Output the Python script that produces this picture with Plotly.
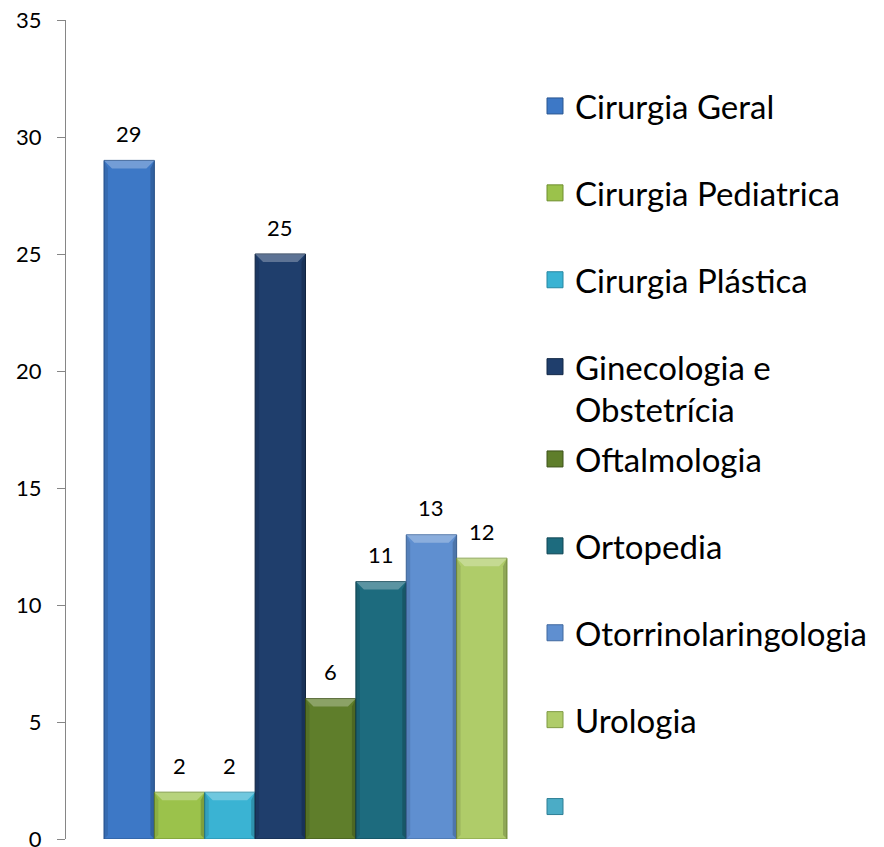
import plotly.graph_objects as go

categories = ["Cirurgia Geral", "Cirurgia Pediatrica", "Cirurgia Plástica",
              "Ginecologia e<br>Obstetrícia", "Oftalmologia", "Ortopedia",
              "Otorrinolaringologia", "Urologia"]
values = [29, 2, 2, 25, 6, 11, 13, 12]
colors = ["#3D78C6", "#9BC24B", "#3AB3D3", "#1F3E6C", "#5F7E2B", "#1D6B7E", "#5F8FD0", "#AFCC69"]
edges = ["#2A5690", "#6F8F2E", "#2487A2", "#132846", "#3E531A", "#114754", "#40689F", "#7F9A43"]
extra_name = " "
extra_color = "#4BACC6"
extra_edge = "#2F7F95"
y_ticks = [0, 5, 10, 15, 20, 25, 30, 35]

FONT = "Lato"
W, H = 876, 839          # page body has an 8px margin
PLOT_L, PLOT_R, PLOT_T, PLOT_B = 58, 537, 12, 831
X_RANGE = [-1.254, 8.254]
Y_RANGE = [0, 35]
px_x = (PLOT_R - PLOT_L) / (X_RANGE[1] - X_RANGE[0])
px_y = (PLOT_B - PLOT_T) / (Y_RANGE[1] - Y_RANGE[0])
bev_x = 8 / px_x
bev_y = 8 / px_y

fig = go.Figure()
shapes = []
for i, (name, v, c, e) in enumerate(zip(categories, values, colors, edges)):
    fig.add_trace(go.Bar(
        x=[i], y=[v], width=[1], name=name,
        marker=dict(color=c, line=dict(color=e, width=1)),
        showlegend=False, legendgroup=name,
        hoverinfo="name+y",
    ))
    fig.add_annotation(x=i, y=v, text=str(v), showarrow=False,
                       yanchor="middle", yshift=27,
                       font=dict(family=FONT, size=22, color="#000000"))
    x0, x1 = i - 0.5, i + 0.5
    shapes.append(dict(
        type="path", xref="x", yref="y", layer="above",
        path=f"M{x0},{v} L{x1},{v} L{x1 - bev_x},{v - bev_y} L{x0 + bev_x},{v - bev_y} Z",
        fillcolor="rgba(255,255,255,0.28)", line=dict(width=0),
    ))
    shapes.append(dict(
        type="path", xref="x", yref="y", layer="above",
        path=f"M{x1},{v} L{x1},0 L{x1 - bev_x * 0.5},{bev_y * 0.5} L{x1 - bev_x * 0.5},{v - bev_y} Z",
        fillcolor="rgba(0,0,0,0.18)", line=dict(width=0),
    ))
    shapes.append(dict(
        type="path", xref="x", yref="y", layer="above",
        path=f"M{x0},{v} L{x0},0 L{x0 + bev_x * 0.5},{bev_y * 0.5} L{x0 + bev_x * 0.5},{v - bev_y} Z",
        fillcolor="rgba(0,0,0,0.10)", line=dict(width=0),
    ))

# legend entries (square swatches)
legend_names = categories + [extra_name]
legend_colors = colors + [extra_color]
legend_edges = edges + [extra_edge]
for i, (name, c, e) in enumerate(zip(legend_names, legend_colors, legend_edges)):
    fig.add_trace(go.Scatter(
        x=[None], y=[None], mode="markers", name=name,
        marker=dict(symbol="square", size=22, color=c, line=dict(color=e, width=1)),
        legend="legend" if i < 4 else "legend2",
        legendgroup=f"g{i}", hoverinfo="skip",
    ))

legend_common = dict(
    font=dict(family=FONT, size=33, color="#000000"),
    traceorder="grouped", tracegroupgap=41, valign="top",
    xref="container", yref="container", xanchor="left", yanchor="top",
    bgcolor="rgba(0,0,0,0)", itemsizing="trace",
)

fig.update_layout(
    width=W, height=H,
    margin=dict(l=PLOT_L, r=W - PLOT_R, t=PLOT_T, b=H - PLOT_B, autoexpand=False),
    paper_bgcolor="white", plot_bgcolor="white",
    barmode="overlay",
    showlegend=True,
    shapes=shapes,
    legend=dict(x=527 / W, y=1 - 70 / H, **legend_common),
    legend2=dict(x=527 / W, y=1 - 423 / H, **legend_common),
    xaxis=dict(range=X_RANGE, showticklabels=False, showgrid=False,
               zeroline=False, showline=False, ticks=""),
    yaxis=dict(range=Y_RANGE, tickvals=y_ticks, showgrid=False, zeroline=False,
               showline=True, linecolor="#868686", linewidth=1,
               ticks="outside", ticklen=8, tickcolor="#868686",
               ticklabelstandoff=11, ticklabeloverflow="allow",
               tickfont=dict(family=FONT, size=22, color="#000000")),
)

fig.write_html("out.html")
